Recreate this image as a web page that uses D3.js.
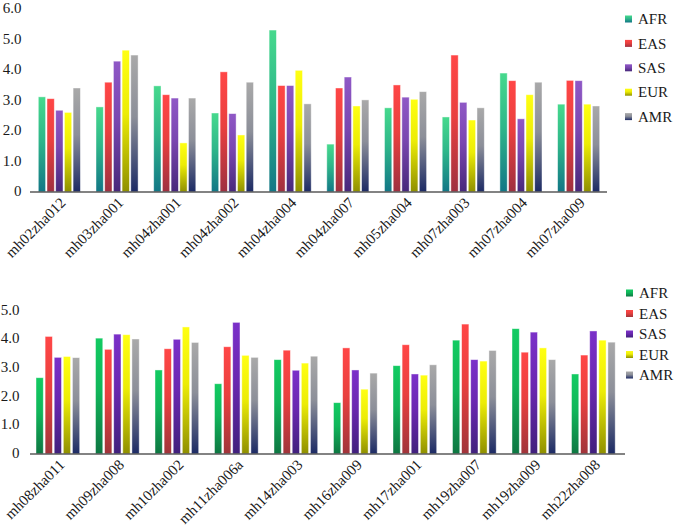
<!DOCTYPE html>
<html><head><meta charset="utf-8">
<script src="https://cdn.jsdelivr.net/npm/d3@7"></script>
<style>
body{margin:0;background:#fff;}
svg{display:block;font-family:"Liberation Serif","Times New Roman",Times,serif;}
</style></head>
<body>
<svg id="chart" width="674" height="527"></svg>
<script>
const series = ["AFR","EAS","SAS","EUR","AMR"];

const topCategories = ["mh02zha012","mh03zha001","mh04zha001","mh04zha002","mh04zha004","mh04zha007","mh05zha004","mh07zha003","mh07zha004","mh07zha009"];
const topAFR = [3.12,2.79,3.48,2.59,5.31,1.57,2.76,2.46,3.90,2.88];
const topEAS = [3.06,3.60,3.19,3.94,3.49,3.41,3.51,4.49,3.65,3.66];
const topSAS = [2.68,4.29,3.08,2.57,3.49,3.77,3.11,2.94,2.40,3.65];
const topEUR = [2.61,4.65,1.61,1.87,3.99,2.82,3.04,2.36,3.19,2.88];
const topAMR = [3.41,4.49,3.08,3.60,2.89,3.02,3.29,2.76,3.60,2.82];
const topTicks = ["0","1.0","2.0","3.0","4.0","5.0","6.0"];

const botCategories = ["mh08zha011","mh09zha008","mh10zha002","mh11zha006a","mh14zha003","mh16zha009","mh17zha001","mh19zha007","mh19zha009","mh22zha008"];
const botAFR = [2.66,4.04,2.93,2.45,3.29,1.79,3.08,3.97,4.37,2.79];
const botEAS = [4.10,3.65,3.67,3.74,3.62,3.70,3.81,4.53,3.55,3.45];
const botSAS = [3.37,4.18,4.00,4.59,2.92,2.93,2.79,3.29,4.25,4.29];
const botEUR = [3.40,4.16,4.43,3.44,3.17,2.26,2.75,3.24,3.70,3.97];
const botAMR = [3.36,4.01,3.89,3.37,3.41,2.82,3.11,3.61,3.29,3.90];
const botTicks = ["0","1.0","2.0","3.0","4.0","5.0"];

const svg = d3.select("#chart");
const defs = svg.append("defs");

function makeGrad(id, c1, c2, c3){
  const g = defs.append("linearGradient").attr("id", id)
    .attr("x1",0).attr("y1",0).attr("x2",0).attr("y2",1);
  g.append("stop").attr("offset","0%").attr("stop-color",c1);
  g.append("stop").attr("offset","45%").attr("stop-color",c2);
  g.append("stop").attr("offset","100%").attr("stop-color",c3);
}
const topColors = {
  AFR:["#46d98d","#2fb78a","#127686"],
  EAS:["#ff4646","#e9403f","#9e3040"],
  SAS:["#8f58c6","#7a47b0","#47287a"],
  EUR:["#ffff12","#ecec06","#8f8f00"],
  AMR:["#a9a9a9","#8c8f99","#1c2a64"]
};
const botColors = {
  AFR:["#12cb62","#10b65a","#0e7642"],
  EAS:["#ff4646","#e9403f","#a0343a"],
  SAS:["#7b30c9","#6a28b0","#40207c"],
  EUR:["#ffff12","#ecec06","#8f8f00"],
  AMR:["#a9a9a9","#8c8f99","#1c2a64"]
};
series.forEach(s=>{
  makeGrad("t_"+s, ...topColors[s]);
  makeGrad("b_"+s, ...botColors[s]);
});

function drawChart(cfg){
  const g = svg.append("g");
  const x0 = d3.scaleBand().domain(cfg.categories).range(cfg.xRange).padding(0);
  const x1 = d3.scaleBand().domain(series).range(cfg.innerRange).paddingInner(cfg.innerPad).paddingOuter(0);
  const y = d3.scaleLinear().domain([0, cfg.yMax]).range(cfg.yRange);

  const data = cfg.categories.map((c,i)=>({cat:c, vals: series.map((s,j)=>({s, v: cfg.values[j][i]}))}));

  const groups = g.selectAll("g.grp").data(data).join("g")
    .attr("transform", d=>`translate(${x0(d.cat)},0)`);
  groups.selectAll("rect").data(d=>d.vals).join("rect")
    .attr("x", d=>x1(d.s))
    .attr("width", x1.bandwidth())
    .attr("y", d=>y(d.v))
    .attr("height", d=>y(0)-y(d.v))
    .attr("fill", d=>`url(#${cfg.prefix}_${d.s})`)
    .attr("stroke","rgba(255,255,255,0.55)")
    .attr("stroke-width",0.8);

  g.append("line")
    .attr("x1", cfg.xRange[0]).attr("x2", cfg.xRange[1])
    .attr("y1", y(0)).attr("y2", y(0))
    .attr("stroke","#5a5a5a").attr("stroke-width",1.6);

  g.selectAll("text.yt").data(cfg.ticks).join("text")
    .attr("x", cfg.yLabelX)
    .attr("y", (d,i)=>y(i)-1)
    .attr("dy","0.34em")
    .attr("text-anchor","end")
    .attr("font-size",15)
    .attr("fill","#1a1a1a")
    .text(d=>d);

  g.selectAll("text.xl").data(cfg.categories).join("text")
    .attr("transform", d=>`translate(${x0(d)+x0.bandwidth()/2+cfg.labelDx},${y(0)+cfg.labelDy}) rotate(-45)`)
    .attr("text-anchor","end")
    .attr("dy","0.35em")
    .attr("font-size",15)
    .attr("fill","#1a1a1a")
    .text(d=>d);

  const lg = g.append("g");
  series.forEach((s,i)=>{
    const yy = cfg.legendY + i*cfg.legendStep;
    lg.append("rect").attr("x",cfg.legendX).attr("y",yy-3.5).attr("width",7).attr("height",7)
      .attr("fill",`url(#${cfg.prefix}_${s})`);
    lg.append("text").attr("x",cfg.legendX+13).attr("y",yy).attr("dy","0.35em")
      .attr("font-size",15).attr("fill","#1a1a1a").text(s);
  });
}

drawChart({
  prefix:"t", categories: topCategories,
  values:[topAFR,topEAS,topSAS,topEUR,topAMR],
  xRange:[30,607], innerRange:[8.3,50.4], innerPad:0.16,
  yMax:6, yRange:[192,9], ticks: topTicks, yLabelX:21.5,
  labelDx:4, labelDy:8,
  legendX:625, legendY:19, legendStep:24.4
});
drawChart({
  prefix:"b", categories: botCategories,
  values:[botAFR,botEAS,botSAS,botEUR,botAMR],
  xRange:[30,625], innerRange:[6,49.7], innerPad:0.2,
  yMax:5, yRange:[454,310.6], ticks: botTicks, yLabelX:19.5,
  labelDx:2, labelDy:8,
  legendX:626, legendY:293, legendStep:20.5
});
</script>
</body></html>
